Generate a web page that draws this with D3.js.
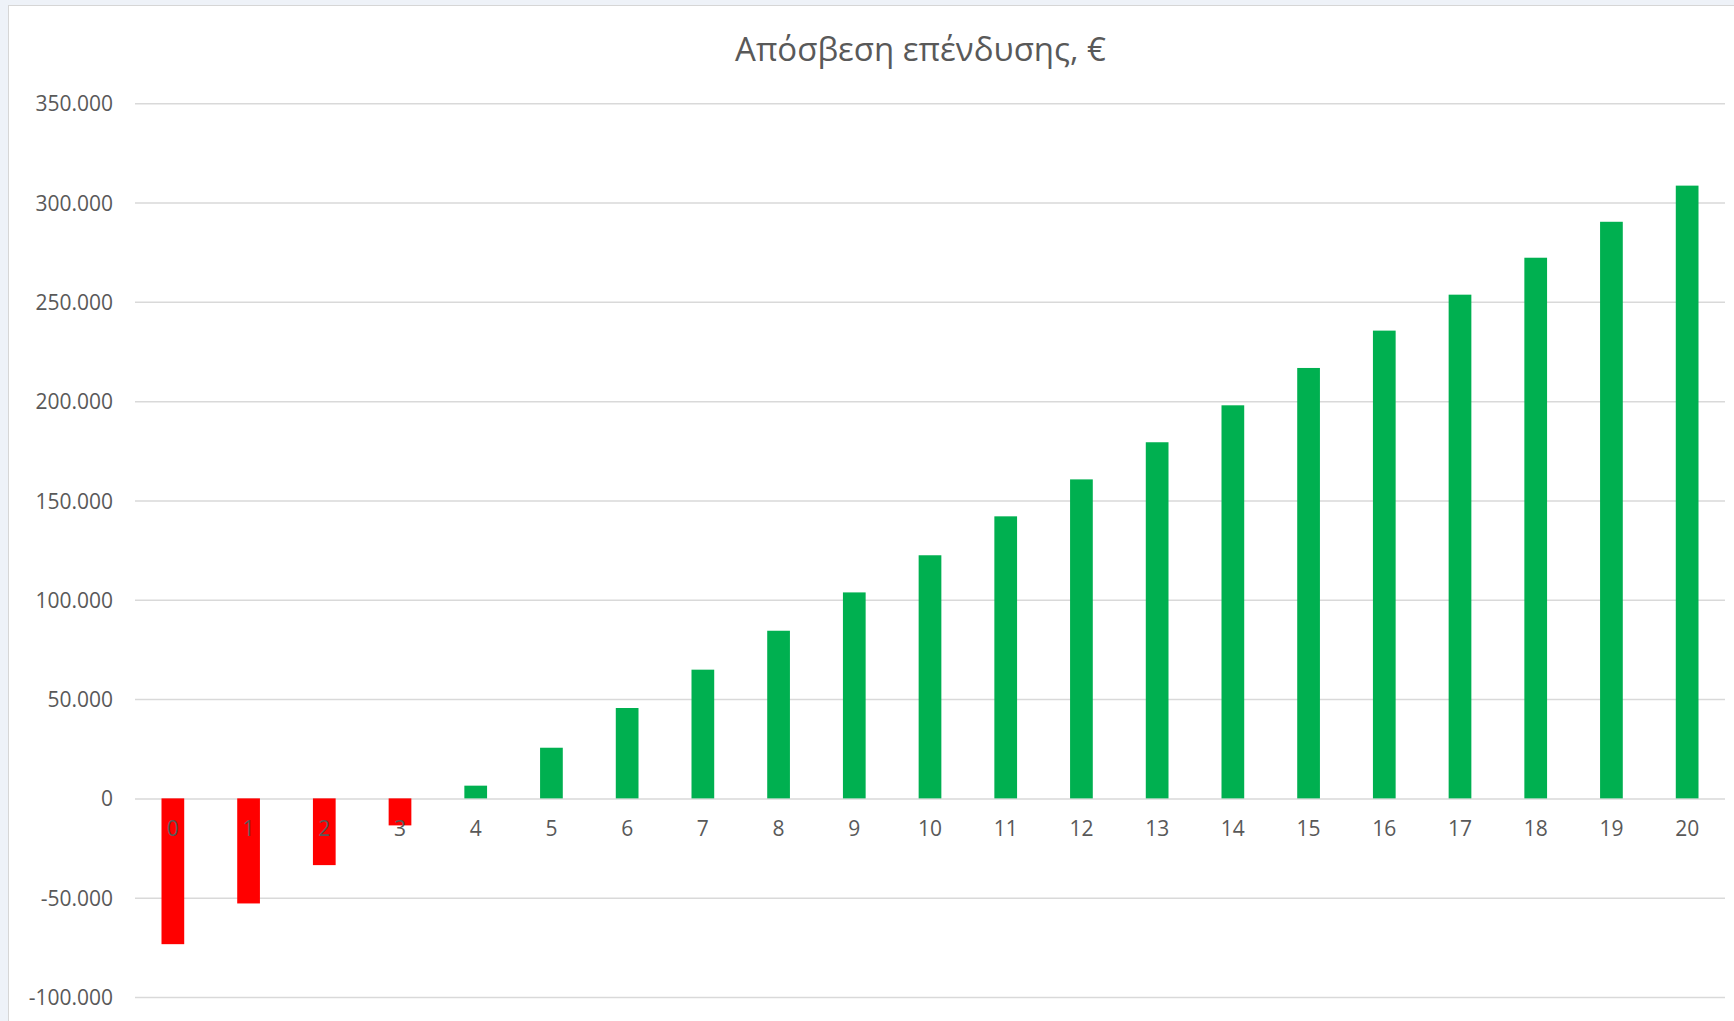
<!DOCTYPE html>
<html>
<head>
<meta charset="utf-8">
<script src="https://cdn.jsdelivr.net/npm/d3@7/dist/d3.min.js"></script>
<style>
  html, body { margin: 0; padding: 0; background: #EEF2F8; }
  svg { display: block; }
</style>
</head>
<body>
<svg id="chart" width="1734" height="1021"></svg>
<script>
const title = "Απόσβεση επένδυσης, €";
const years = ["0","1","2","3","4","5","6","7","8","9","10","11","12","13","14","15","16","17","18","19","20"];
const values = [-73400, -52900, -33600, -13600, 6400, 25500, 45500, 64800, 84400, 103700, 122400,
                142000, 160600, 179300, 197900, 216700, 235500, 253600, 272200, 290300, 308500];
const yTicks = [-100000, -50000, 0, 50000, 100000, 150000, 200000, 250000, 300000, 350000];

const svg = d3.select("#chart");
const font = "'Open Sans', 'Noto Sans', sans-serif";
const textColor = "#595959";

// chart area
svg.append("rect")
  .attr("x", 8.5).attr("y", 5.5)
  .attr("width", 1800).attr("height", 1100)
  .attr("fill", "#FFFFFF")
  .attr("stroke", "#D6D6D6").attr("stroke-width", 1);

const plot = { left: 135, right: 1725, top: 103.2, bottom: 997 };

const x = d3.scaleBand()
  .domain(years)
  .range([plot.left, plot.right])
  .paddingInner(0.7)
  .paddingOuter(0.35);

const y = d3.scaleLinear()
  .domain([-100000, 350000])
  .range([plot.bottom, plot.top]);

const fmt = v => d3.format(",")(v).replace(/,/g, ".").replace("−", "-");

// gridlines + y labels via axis
const yAxis = d3.axisLeft(y)
  .tickValues(yTicks)
  .tickSize(-(plot.right - plot.left))
  .tickPadding(22)
  .tickFormat(fmt);

const gy = svg.append("g")
  .attr("transform", `translate(${plot.left},0)`)
  .call(yAxis);
gy.select(".domain").remove();
gy.selectAll(".tick line")
  .attr("stroke", "#D9D9D9")
  .attr("stroke-width", 1.5);
gy.selectAll(".tick text")
  .attr("fill", textColor)
  .attr("font-family", font)
  .attr("font-size", 21)
  .attr("dy", "0.36em");

// bars
svg.append("g").selectAll("rect")
  .data(values)
  .join("rect")
  .attr("x", (d, i) => x(years[i]))
  .attr("width", x.bandwidth())
  .attr("y", d => y(Math.max(0, d)))
  .attr("height", d => Math.abs(y(d) - y(0)))
  .attr("fill", d => d < 0 ? "#FF0000" : "#00B050");

// x axis labels
const xAxis = d3.axisBottom(x).tickSize(0).tickPadding(23);
const gx = svg.append("g")
  .attr("transform", `translate(0,${y(0)})`)
  .call(xAxis);
gx.select(".domain").remove();
gx.selectAll(".tick text")
  .attr("fill", textColor)
  .attr("font-family", font)
  .attr("font-size", 21);

// title
svg.append("text")
  .attr("x", 920.5)
  .attr("y", 61)
  .attr("text-anchor", "middle")
  .attr("fill", textColor)
  .attr("font-family", font)
  .attr("font-size", 33)
  .text(title);
</script>
</body>
</html>
